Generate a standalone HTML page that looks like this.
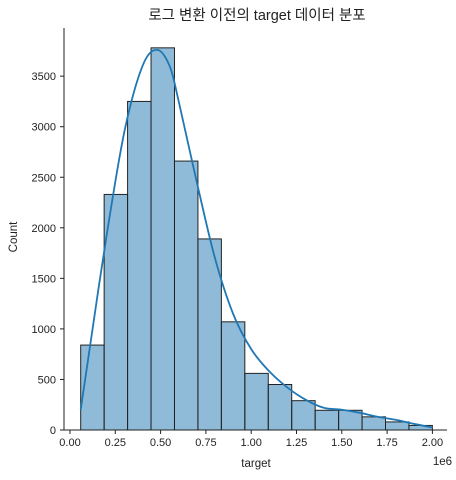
<!DOCTYPE html>
<html><head><meta charset="utf-8"><style>
body{margin:0;background:#fff}
svg{font-family:"Liberation Sans","Noto Sans CJK KR",sans-serif}
</style></head><body>
<svg width="456" height="475">
<text x="257" y="20" font-size="14.5" text-anchor="middle" fill="#222">로그 변환 이전의 target 데이터 분포</text>
<g id="bars"></g>
<path id="kde" fill="none" stroke="#1f77b4" stroke-width="1.8"/>
<line x1="64" y1="28" x2="64" y2="430" stroke="#222" stroke-width="1"/>
<line x1="64" y1="430" x2="447" y2="430" stroke="#222" stroke-width="1"/>
<g id="ticks" font-size="11" fill="#222"></g>
<text x="256" y="467" font-size="11.5" text-anchor="middle" fill="#222">target</text>
<text x="452" y="465" font-size="11.5" text-anchor="end" fill="#222">1e6</text>
<text transform="translate(17,237) rotate(-90)" font-size="11.5" text-anchor="middle" fill="#222">Count</text>
</svg>
<script>
const binStart = 0.059, binEnd = 2.0;
const counts = [840, 2330, 3250, 3780, 2660, 1890, 1070, 560, 450, 290, 195, 195, 130, 80, 45];
const kdeX = [0.059,0.1,0.2,0.3,0.4,0.48,0.55,0.6,0.7,0.8,0.9,1.0,1.1,1.2,1.3,1.4,1.5,1.6,1.7,1.8,1.9,2.0];
const kdeY = [200,700,1900,2950,3600,3760,3600,3250,2450,1700,1150,800,580,420,300,220,200,170,130,100,60,25];
const xTicks = [0,0.25,0.5,0.75,1.0,1.25,1.5,1.75,2.0];
const xTickLabels = ["0.00","0.25","0.50","0.75","1.00","1.25","1.50","1.75","2.00"];
const yTicks = [0,500,1000,1500,2000,2500,3000,3500];
const NS = "http://www.w3.org/2000/svg";
const X = v => 70 + v * 181.2;
const Y = v => 430 - v * 0.1011;
const bars = document.getElementById('bars');
const w = (binEnd - binStart) / counts.length;
counts.forEach((c, i) => {
  const r = document.createElementNS(NS, 'rect');
  const x0 = X(binStart + i * w), x1 = X(binStart + (i + 1) * w);
  r.setAttribute('x', x0); r.setAttribute('y', Y(c));
  r.setAttribute('width', x1 - x0); r.setAttribute('height', Y(0) - Y(c));
  r.setAttribute('fill', 'rgba(31,119,180,0.5)'); r.setAttribute('stroke', '#222'); r.setAttribute('stroke-width', '1');
  
  
  bars.appendChild(r);
});
const pts = kdeX.map((x, i) => [X(x), Y(kdeY[i])]);
let d = 'M' + pts[0][0] + ',' + pts[0][1];
for (let i = 0; i < pts.length - 1; i++) {
  const p0 = pts[i - 1] || pts[i], p1 = pts[i], p2 = pts[i + 1], p3 = pts[i + 2] || p2;
  d += ' C' + (p1[0] + (p2[0] - p0[0]) / 6) + ',' + (p1[1] + (p2[1] - p0[1]) / 6) + ' ' +
    (p2[0] - (p3[0] - p1[0]) / 6) + ',' + (p2[1] - (p3[1] - p1[1]) / 6) + ' ' + p2[0] + ',' + p2[1];
}
document.getElementById('kde').setAttribute('d', d);
const tg = document.getElementById('ticks');
xTicks.forEach((v, i) => {
  const l = document.createElementNS(NS, 'line');
  l.setAttribute('x1', X(v)); l.setAttribute('x2', X(v)); l.setAttribute('y1', 430); l.setAttribute('y2', 434); l.setAttribute('stroke', '#222');
  
  
  tg.appendChild(l);
  const t = document.createElementNS(NS, 'text');
  t.setAttribute('x', X(v)); t.setAttribute('y', 446); t.setAttribute('text-anchor', 'middle');
  t.textContent = xTickLabels[i];
  
  
  tg.appendChild(t);
});
yTicks.forEach(v => {
  const l = document.createElementNS(NS, 'line');
  l.setAttribute('x1', 60); l.setAttribute('x2', 64); l.setAttribute('y1', Y(v)); l.setAttribute('y2', Y(v)); l.setAttribute('stroke', '#222');
  
  
  tg.appendChild(l);
  const t = document.createElementNS(NS, 'text');
  t.setAttribute('x', 56); t.setAttribute('y', Y(v) + 4); t.setAttribute('text-anchor', 'end');
  t.textContent = v;
  
  
  tg.appendChild(t);
});
</script>
</body></html>
